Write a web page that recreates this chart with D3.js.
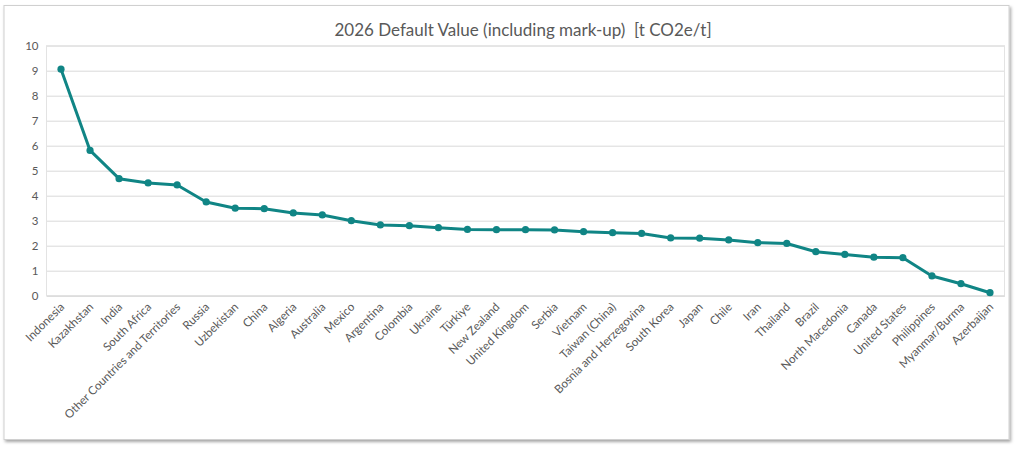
<!DOCTYPE html>
<html><head><meta charset="utf-8">
<script src="https://cdn.jsdelivr.net/npm/d3@7/dist/d3.min.js"></script>
<style>
html,body{margin:0;padding:0;background:#fff;}
svg{display:block;font-family:Lato,"Open Sans",sans-serif;}
</style></head>
<body>
<svg id="c" width="1024" height="453"></svg>
<script>
const titleText = "2026 Default Value (including mark-up)  [t CO2e/t]";
const countries = ["Indonesia","Kazakhstan","India","South Africa","Other Countries and Territories","Russia","Uzbekistan","China","Algeria","Australia","Mexico","Argentina","Colombia","Ukraine","Türkiye","New Zealand","United Kingdom","Serbia","Vietnam","Taiwan (China)","Bosnia and Herzegovina","South Korea","Japan","Chile","Iran","Thailand","Brazil","North Macedonia","Canada","United States","Philippines","Myanmar/Burma","Azerbaijan"];
const values = [9.06,5.81,4.68,4.51,4.43,3.75,3.50,3.48,3.31,3.23,3.00,2.83,2.80,2.72,2.65,2.64,2.64,2.63,2.56,2.52,2.49,2.31,2.30,2.23,2.12,2.09,1.76,1.65,1.54,1.52,0.79,0.48,0.12];
const yTicks = [0,1,2,3,4,5,6,7,8,9,10];

const svg = d3.select("#c");
const defs = svg.append("defs");
const f = defs.append("filter").attr("id","sh").attr("x","-5%").attr("y","-5%").attr("width","110%").attr("height","110%");
f.append("feDropShadow").attr("dx",1.5).attr("dy",2).attr("stdDeviation",1.8).attr("flood-color","#000").attr("flood-opacity",0.35);

svg.append("rect").attr("x",4).attr("y",5.5).attr("width",1005).attr("height",434)
  .attr("fill","#fff").attr("stroke","#d0d0d0").attr("stroke-width",1).attr("filter","url(#sh)");

const L=46.5, R=1004.5, T=45.7, B=295.7;
const x = d3.scaleBand().domain(countries).range([L,R]);
const y = d3.scaleLinear().domain([0,10]).range([B,T]);

svg.append("text").attr("x",523).attr("y",36).attr("text-anchor","middle")
  .style("white-space","pre")
  .attr("font-size",17).attr("fill","#595959").text(titleText);

const gy = svg.append("g").attr("transform",`translate(${L},0)`)
  .call(d3.axisLeft(y).tickValues(yTicks).tickSize(-(R-L)).tickPadding(8).tickFormat(d3.format("d")));
gy.select(".domain").remove();
gy.selectAll(".tick line").attr("stroke","#d9d9d9").attr("stroke-width",1);
gy.selectAll(".tick text").attr("fill","#595959").attr("font-size",11.5).attr("font-family","Lato,'Open Sans',sans-serif");

svg.append("rect").attr("x",L).attr("y",T).attr("width",R-L).attr("height",B-T)
  .attr("fill","none").attr("stroke","#e3e3e3").attr("stroke-width",1);

const gx = svg.append("g").attr("transform",`translate(0,${B})`)
  .call(d3.axisBottom(x).tickSize(0).tickPadding(0));
gx.select(".domain").attr("stroke","#d9d9d9");
gx.selectAll(".tick text").attr("fill","#595959").attr("font-size",11.6).attr("font-family","Lato,'Open Sans',sans-serif")
  .attr("text-anchor","end").attr("dy",0)
  .attr("transform","translate(4,12) rotate(-45)");

const line = d3.line().x((d,i)=>x(countries[i])+x.bandwidth()/2).y(d=>y(d));
svg.append("path").datum(values).attr("d",line).attr("fill","none")
  .attr("stroke","#108585").attr("stroke-width",3).attr("stroke-linejoin","round");
svg.selectAll("circle.pt").data(values).join("circle").attr("class","pt")
  .attr("cx",(d,i)=>x(countries[i])+x.bandwidth()/2).attr("cy",d=>y(d)).attr("r",3.6)
  .attr("fill","#108585");
</script>
</body></html>
